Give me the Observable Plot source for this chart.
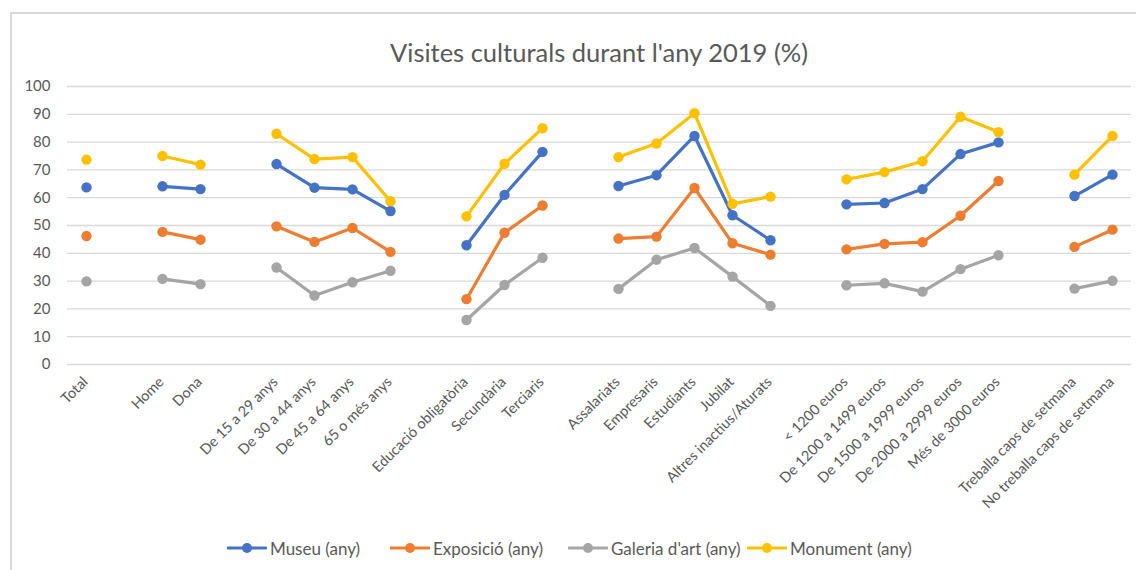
<!DOCTYPE html>
<html>
<head>
<meta charset="utf-8">
<script src="https://cdn.jsdelivr.net/npm/d3@7"></script>
<script src="https://cdn.jsdelivr.net/npm/@observablehq/plot@0.6"></script>
<style>
  html, body { margin: 0; padding: 0; background: #fff; overflow: hidden; }
  #wrap { position: relative; width: 1136px; height: 570px; font-family: Lato, "Open Sans", sans-serif; color: #595959; }
  #frame { position: absolute; left: 10px; top: 12px; width: 2000px; height: 2000px; border-left: 2px solid #d9d9d9; border-top: 2px solid #d9d9d9; pointer-events: none; }
  #title { height: 70px; box-sizing: border-box; padding: 37px 5px 0 67px; text-align: center; font-size: 25.5px; line-height: 30px; }
  #chart svg { display: block; }
  #legend { position: absolute; left: 0; top: 537px; width: 1136px; height: 22px; font-size: 17px; }
  .item { position: absolute; top: 0; display: flex; align-items: center; gap: 3px; height: 22px; white-space: nowrap; }
</style>
</head>
<body>
<div id="wrap">
  <div id="frame"></div>
  <div id="title">Visites culturals durant l'any 2019 (%)</div>
  <div id="chart"></div>
  <div id="legend"></div>
</div>
<script>
const categories = [
  "Total",
  "Home", "Dona",
  "De 15 a 29 anys", "De 30 a 44 anys", "De 45 a 64 anys", "65 o més anys",
  "Educació obligatòria", "Secundària", "Terciaris",
  "Assalariats", "Empresaris", "Estudiants", "Jubilat", "Altres inactius/Aturats",
  "< 1200 euros", "De 1200 a 1499 euros", "De 1500 a 1999 euros", "De 2000 a 2999 euros", "Més de 3000 euros",
  "Treballa caps de setmana", "No treballa caps de setmana"
];
const groupSizes = [1, 2, 4, 3, 5, 5, 2];

const seriesNames = ["Museu (any)", "Exposició (any)", "Galeria d'art (any)", "Monument (any)"];
const seriesColors = ["#4472C4", "#ED7D31", "#A5A5A5", "#FFC000"];

const museu =     [63.7, 64.1, 63.1, 72.1, 63.6, 63.0, 55.2, 42.9, 61.0, 76.5, 64.2, 68.1, 82.2, 53.7, 44.7, 57.6, 58.1, 63.1, 75.7, 79.9, 60.6, 68.3];
const exposicio = [46.2, 47.7, 44.9, 49.7, 44.1, 49.1, 40.5, 23.5, 47.4, 57.2, 45.3, 46.0, 63.5, 43.6, 39.5, 41.4, 43.4, 44.0, 53.5, 66.0, 42.3, 48.5];
const galeria =   [29.9, 30.8, 28.9, 34.9, 24.8, 29.6, 33.7, 16.0, 28.6, 38.4, 27.2, 37.7, 41.9, 31.6, 21.1, 28.5, 29.2, 26.2, 34.3, 39.3, 27.3, 30.1];
const monument =  [73.7, 75.0, 71.9, 83.0, 73.9, 74.6, 58.7, 53.3, 72.2, 85.0, 74.6, 79.5, 90.4, 57.8, 60.4, 66.6, 69.2, 73.1, 89.1, 83.6, 68.3, 82.2];

const yTicks = [0, 10, 20, 30, 40, 50, 60, 70, 80, 90, 100];

// slot positions: one empty slot between groups
const catGroup = [];
groupSizes.forEach((n, g) => { for (let k = 0; k < n; k++) catGroup.push(g); });
const catSlot = categories.map((c, i) => i + catGroup[i]);
const nSlots = catSlot[catSlot.length - 1] + 1;
const slotLabel = {};
categories.forEach((c, i) => slotLabel[catSlot[i]] = c);

const seriesValues = [museu, exposicio, galeria, monument];
const rows = [];
seriesNames.forEach((s, si) => {
  seriesValues[si].forEach((v, i) => {
    rows.push({series: s, group: catGroup[i], slot: catSlot[i], value: v});
  });
});

const plot = Plot.plot({
  width: 1136,
  height: 470,
  marginLeft: 67,
  marginRight: 5,
  marginTop: 16,
  marginBottom: 176,
  x: {type: "point", domain: d3.range(nSlots), padding: 0.5},
  y: {domain: [0, 100]},
  color: {domain: seriesNames, range: seriesColors},
  style: {fontFamily: "Lato, 'Open Sans', sans-serif", color: "#595959", background: "transparent"},
  marks: [
    Plot.gridY(yTicks, {stroke: "#d9d9d9", strokeOpacity: 1, strokeWidth: 1.3}),
    Plot.axisY(yTicks, {tickSize: 0, tickPadding: 17, fontSize: 15, fill: "#595959", label: null}),
    Plot.axisX(catSlot, {tickSize: 0, tickPadding: 15, dx: -1, tickRotate: -45, fontSize: 14.5, fill: "#595959",
      tickFormat: s => slotLabel[s] ?? "", label: null}),
    Plot.line(rows, {x: "slot", y: "value", z: d => d.series + "|" + d.group, stroke: "series", strokeWidth: 3.2}),
    Plot.dot(rows, {x: "slot", y: "value", fill: "series", r: 5.2})
  ]
});
document.getElementById("chart").appendChild(plot);

const legendLeft = [227, 390, 568, 747];
const legend = document.getElementById("legend");
seriesNames.forEach((s, i) => {
  const item = document.createElement("div");
  item.className = "item";
  item.style.left = legendLeft[i] + "px";
  item.innerHTML = `<svg width="40" height="12"><line x1="1" x2="39" y1="6" y2="6" stroke="${seriesColors[i]}" stroke-width="3.2" stroke-linecap="round"/><circle cx="20" cy="6" r="5" fill="${seriesColors[i]}"/></svg><span>${s}</span>`;
  legend.appendChild(item);
});
</script>
</body>
</html>
